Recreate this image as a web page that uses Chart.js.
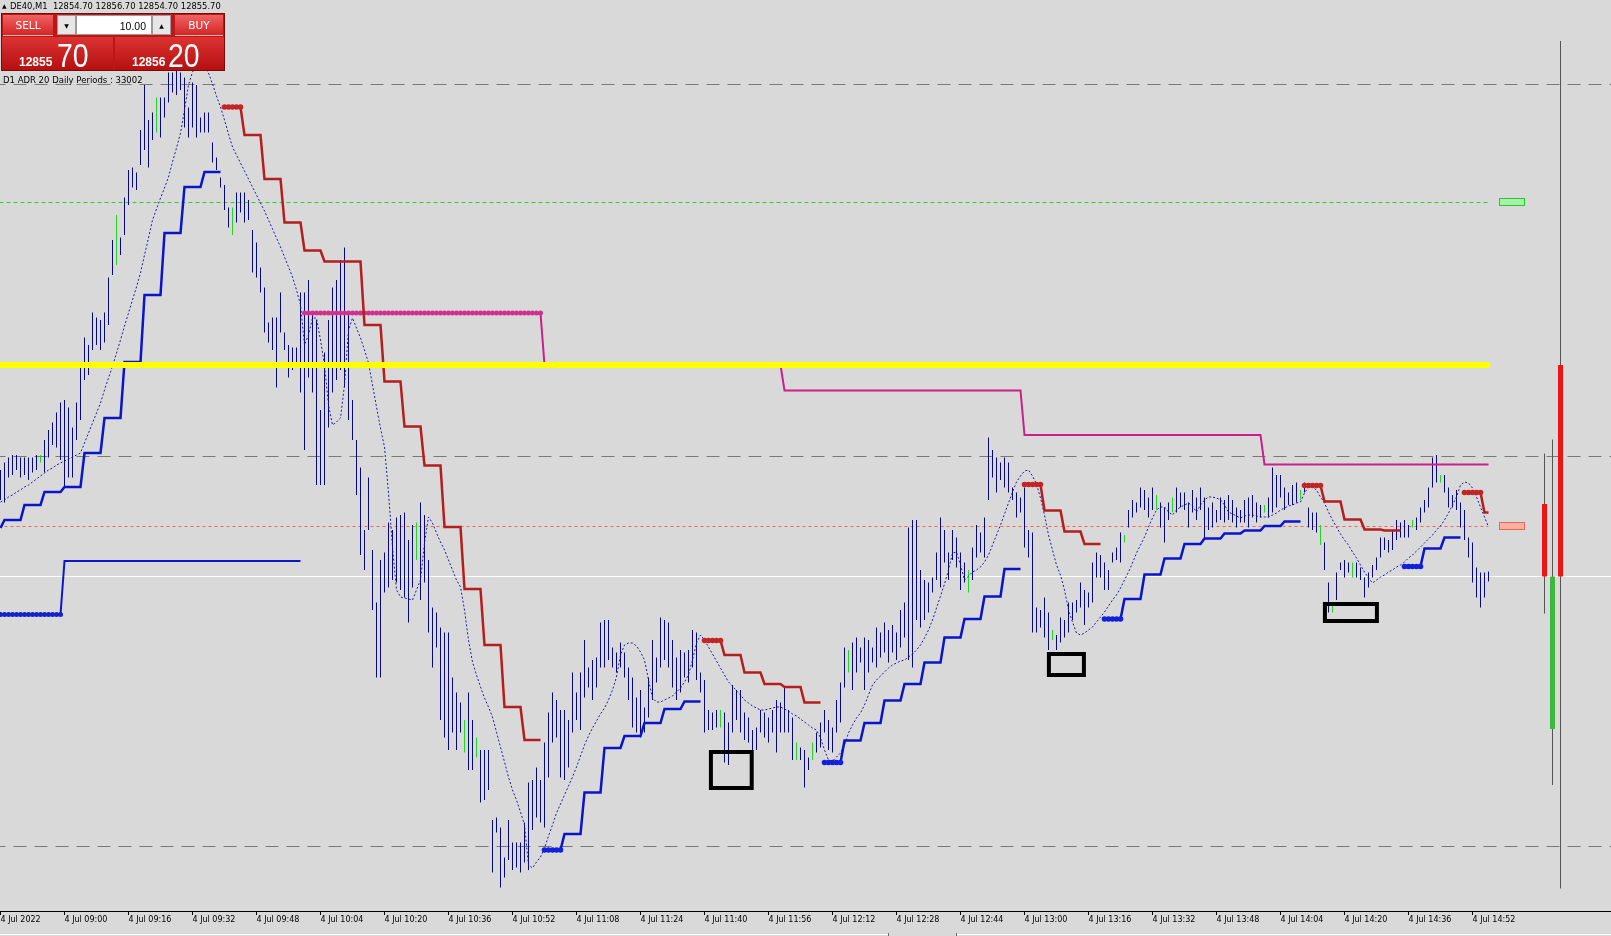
<!DOCTYPE html>
<html><head><meta charset="utf-8">
<script src="https://cdn.jsdelivr.net/npm/chart.js"></script>
<style>
html,body{margin:0;padding:0;background:#d9d9d9;overflow:hidden}
#wrap{position:relative;width:1611px;height:936px}
#c{position:absolute;left:0;top:0;background:#d9d9d9}
.a{position:absolute;white-space:pre;line-height:1}
.t{font-family:'DejaVu Sans',sans-serif;color:#000}
.box{position:absolute;box-sizing:border-box}
.btn{display:flex;align-items:center;justify-content:center;color:#fff;font:10.5px 'DejaVu Sans',sans-serif;background:linear-gradient(#f06262,#d42626);border-bottom:1px solid #f3b0b0}
.sp{display:flex;align-items:center;justify-content:center;background:#e6e6e6;border:1px solid #9a9a9a;font:6px 'DejaVu Sans',sans-serif;color:#000}
.pr{background:linear-gradient(#dc3232,#b51010)}
.sm{font:bold 12px 'Liberation Sans',Arial,sans-serif;color:#fff}
.bg{font:33px 'Liberation Sans',Arial,sans-serif;color:#fff;transform:scaleX(0.86);transform-origin:0 0}
</style></head>
<body><div id="wrap">
<canvas id="c" width="1611" height="936"></canvas>
<div class="a t" style="left:2px;top:3px;font-size:6px">▲</div>
<div class="a t" style="left:10px;top:2px;font-size:8.4px">DE40,M1  12854.70 12856.70 12854.70 12855.70</div>
<div class="box" style="left:1px;top:13px;width:224px;height:58px;background:#bd1616;border:1px solid #7a0a0a"></div>
<div class="box btn" style="left:3px;top:15px;width:50px;height:21px">SELL</div>
<div class="box sp" style="left:57px;top:15px;width:19px;height:20px">▼</div>
<div class="box" style="left:76px;top:15px;width:76px;height:20px;background:#fff;border:1px solid #9a9a9a;font:10.5px 'Liberation Sans',Arial,sans-serif;color:#000;text-align:right;padding:4px 5px 0 0">10.00</div>
<div class="box sp" style="left:152px;top:15px;width:19px;height:20px">▲</div>
<div class="box btn" style="left:175px;top:15px;width:48px;height:21px">BUY</div>
<div class="box pr" style="left:2px;top:37px;width:111px;height:33px"></div>
<div class="box pr" style="left:115px;top:37px;width:109px;height:33px"></div>
<div class="a sm" style="left:19px;top:55px">12855</div>
<div class="a bg" style="left:57px;top:37px">70</div>
<div class="a sm" style="left:132px;top:55px">12856</div>
<div class="a bg" style="left:168px;top:37px">20</div>
<div class="a t" style="left:3px;top:76px;font-size:8.5px">D1 ADR 20 Daily Periods : 33002</div>
</div>
<script>
// ---------- data ----------
const tickBars = [0,16,32,48,64,80,96,112,128,144,160,176,192,208,224,240,256,272,288,304,320,336,352,368];
const tickLabels = ["4 Jul 2022","4 Jul 09:00","4 Jul 09:16","4 Jul 09:32","4 Jul 09:48","4 Jul 10:04","4 Jul 10:20","4 Jul 10:36","4 Jul 10:52","4 Jul 11:08","4 Jul 11:24","4 Jul 11:40","4 Jul 11:56","4 Jul 12:12","4 Jul 12:28","4 Jul 12:44","4 Jul 13:00","4 Jul 13:16","4 Jul 13:32","4 Jul 13:48","4 Jul 14:04","4 Jul 14:20","4 Jul 14:36","4 Jul 14:52"];

const barHigh = [
12877,12878.5,12879.5,12880,12880,12879.5,12879.5,12879.5,12879.5,12880,
12880,12883,12885,12886.5,12888.5,12890.5,12891,12889.5,12885.5,12890.5,
12897.5,12903.5,12902,12908.5,12907.5,12907,12908.5,12915.5,12923,12928,
12923.5,12931.5,12937,12937.5,12936.5,12945,12954,12947,12948.5,12951.5,
12951.5,12951.5,12956.5,12956.5,12957,12956.5,12955.5,12949.5,12954.5,12954,
12947.5,12948.5,12948.5,12942.5,12939.5,12935.5,12934,12929.5,12929.5,12932.5,
12932.5,12932.5,12931,12925,12922.5,12917.5,12913.5,12906.5,12907.5,12907.5,
12912.5,12904.5,12902,12901.5,12901.5,12912.5,12912.5,12915,12908.5,12907,
12889,12900.5,12907,12913.5,12915,12919,12921.5,12908.5,12891,12883,
12877.5,12865,12875.5,12861,12850.5,12859,12860.5,12866.5,12865,12867.5,
12868,12868.5,12863,12866,12866.5,12870.5,12868,12859,12849.5,12848.5,
12845.5,12844.5,12844.5,12835.5,12832.5,12830.5,12827,12832.5,12827,12823.5,
12821,12821,12821,12807,12807.5,12805.5,12799.5,12807,12802.5,12802.5,
12802.5,12806.5,12814.5,12815,12817.5,12815,12822.5,12828.5,12832.5,12831,
12829,12829,12827,12836.5,12832.5,12836.5,12843,12837.5,12839,12839.5,
12846.5,12847,12847,12841.5,12840.5,12842.5,12840.5,12837.5,12835.5,12831.5,
12833,12829.5,12835.5,12843,12839.5,12847.5,12847,12846.5,12843,12839.5,
12841,12840.5,12841,12845,12844.5,12836.5,12835,12829,12828.5,12829,
12829,12828.5,12826.5,12834,12833,12833,12828.5,12827.5,12825,12825.5,
12829,12828.5,12827.5,12829,12831,12830.5,12833.5,12829,12827.5,12822.5,
12821.5,12821,12819.5,12822.5,12824.5,12826.5,12829,12827,12825.5,12831,
12834.5,12841.5,12841,12842.5,12843.5,12841.5,12843.5,12843,12841.5,12845.5,
12844.5,12846.5,12845,12846,12844.5,12849,12850.5,12865.5,12867,12867,
12857,12855,12854.5,12855.5,12860.5,12867.5,12865,12860.5,12865,12863.5,
12860.5,12858.5,12857,12861.5,12866,12864.5,12867.5,12883.5,12881,12879.5,
12878.5,12879.5,12878.5,12873.5,12872.5,12871.5,12873.5,12865,12864.5,12849.5,
12849,12851.5,12848.5,12845,12844,12847.5,12847,12850.5,12850.5,12851,
12854.5,12853,12852.5,12858.5,12860.5,12860,12858.5,12857,12860.5,12861.5,
12864.5,12864,12869,12871,12870.5,12873.5,12873,12871.5,12873.5,12872,
12870.5,12869.5,12870.5,12871.5,12873.5,12872.5,12872.5,12870.5,12873,12871.5,
12873.5,12871.5,12869.5,12870.5,12869,12871.5,12871,12872,12871,12869.5,
12869,12871,12871.5,12872,12870.5,12870,12870,12871.5,12877.5,12876,
12876,12873.5,12872.5,12874,12874.5,12873,12874.5,12869.5,12868.5,12868.5,
12866,12862.5,12854.5,12850,12856.5,12858.5,12859,12858.5,12858.5,12858.5,
12857.5,12855.5,12856.5,12858,12859.5,12863.5,12863.5,12863,12865,12867,
12866.5,12867,12866,12867,12867.5,12869.5,12871,12873.5,12879.5,12880,
12876,12876,12873.5,12872,12873,12870.5,12869,12863.5,12862.5,12857.5,
12856.5,12856.5,12856.7];

const barLow = [
12871,12870.5,12875.5,12876,12877,12875.5,12876,12875,12876.5,12877,
12878.5,12876.5,12879.5,12882,12881.5,12879,12873.5,12875.5,12875.5,12883,
12887,12895,12896,12901,12902,12901,12902.5,12906,12916,12918,
12920,12924,12930,12933.5,12933,12938,12941,12937.5,12943,12944.5,
12943.5,12947.5,12950.5,12952.5,12952,12953,12945.5,12943.5,12945.5,12943.5,
12944.5,12944.5,12944.5,12938.5,12937,12933.5,12929,12925.5,12924,12926.5,
12928.5,12926.5,12927,12916.5,12915.5,12912.5,12904.5,12902.5,12901,12893.5,
12904.5,12901,12895.5,12897,12897.5,12892.5,12881,12895.5,12892.5,12874,
12874,12874,12885.5,12892.5,12895,12897,12893.5,12887,12883,12872,
12860,12857,12865,12849,12835.5,12835.5,12852.5,12853.5,12855,12854.5,
12853,12851.5,12846.5,12853.5,12859,12851,12854.5,12844.5,12837.5,12841.5,
12827,12823.5,12821,12824.5,12821,12824.5,12820.5,12817,12817,12819.5,
12810.5,12811,12813,12796.5,12804.5,12793.5,12795.5,12799,12797,12797.5,
12796.5,12798.5,12797,12805,12807.5,12806.5,12805.5,12815.5,12822.5,12823.5,
12815.5,12815,12817.5,12824.5,12827,12825,12831.5,12833.5,12831,12833.5,
12837.5,12837.5,12839,12837.5,12836.5,12837.5,12835.5,12831,12825.5,12824.5,
12823.5,12824.5,12827.5,12831,12834.5,12837.5,12839,12837.5,12833.5,12831,
12832.5,12835.5,12834.5,12837.5,12835,12832.5,12824.5,12825,12825,12825.5,
12825.5,12818.5,12818,12824.5,12827,12824.5,12823,12822.5,12819.5,12821,
12824.5,12823.5,12822.5,12824.5,12820.5,12824.5,12824.5,12824.5,12819,12819,
12819,12813.5,12817,12819,12820.5,12821.5,12824.5,12821,12820.5,12824.5,
12826.5,12833.5,12836.5,12833,12836.5,12838.5,12833,12836.5,12838.5,12837.5,
12839.5,12840.5,12838.5,12840.5,12839,12841.5,12843.5,12839,12837.5,12847,
12845.5,12847,12848.5,12852.5,12855,12853.5,12858.5,12855,12859,12857.5,
12853,12854.5,12852.5,12855,12859.5,12860.5,12859.5,12871,12875.5,12872.5,
12875,12873.5,12872.5,12871,12867.5,12868.5,12861.5,12859.5,12844.5,12844.5,
12845.5,12843.5,12841,12843,12841,12842.5,12843.5,12844.5,12847,12848.5,
12849.5,12846,12849.5,12850.5,12855.5,12855.5,12853,12853,12858.5,12859,
12858.5,12862.5,12865.5,12867.5,12868.5,12869.5,12869,12867.5,12869,12869,
12865.5,12862.5,12867,12868.5,12868.5,12869.5,12869,12865.5,12868.5,12867,
12869,12863,12865,12865.5,12866.5,12867,12866.5,12867,12866.5,12865.5,
12866.5,12866.5,12865.5,12867.5,12866.5,12867.5,12868.5,12867.5,12868.5,12869.5,
12871.5,12869,12870,12870,12870.5,12871,12872.5,12865.5,12865,12864.5,
12862,12857,12848.5,12848.5,12851,12857,12855.5,12856.5,12855.5,12855.5,
12855,12851.5,12853.5,12855.5,12857,12859.5,12861,12860.5,12861,12863,
12863.5,12863.5,12863.5,12865.5,12865,12866.5,12868.5,12869.5,12873.5,12874.5,
12874.5,12872.5,12869.5,12869.5,12869,12865.5,12863,12859.5,12854.5,12851.5,
12849.5,12851.5,12854.7];

const greenBars = [10,29,39,58,104,116,119,180,199,203,212,242,263,281,289,293,316,325,330,333,338,353,360];

const maValues = [
12870.6,12871,12871.6,12872,12872.6,12873,12873.6,12874,12874.6,12875.2,
12875.8,12876.4,12877,12877.4,12878,12878.4,12878.8,12879.2,12879.6,12880,
12880.4,12882.4,12884.4,12886.4,12888.4,12890.4,12893,12895.4,12897.8,12900.4,
12903,12905.8,12908.4,12911,12913.6,12916.4,12920,12923.4,12927,12929.2,
12931.4,12933.4,12935.6,12938.6,12941.4,12944.4,12949,12954,12956.6,12957.8,
12958.2,12957.6,12956.4,12954.2,12951.8,12949.6,12947,12944.2,12941.6,12940,
12938.4,12936.8,12935.2,12933.6,12932,12930.4,12928.8,12927,12925.2,12923.4,
12921.6,12919.6,12917.6,12915.6,12913,12910,12902,12904,12907.4,12907.4,
12903,12898,12890,12886,12886.6,12887.4,12894,12905,12907.4,12905.4,
12903.4,12901,12898.4,12894,12889.6,12885.4,12881.6,12872.4,12861.6,12853,
12851.6,12851.4,12851.2,12851,12853,12855,12862.4,12867.6,12866.4,12864.4,
12862.6,12861,12859,12857,12855,12853.6,12849,12843,12838.6,12836,
12833.6,12831.4,12829.6,12827.6,12824.6,12821.6,12818.6,12815.6,12813,12811,
12808.6,12806,12798,12797.4,12798.6,12799.6,12801.4,12803.8,12806,12808.4,
12810.2,12812,12813.8,12815.6,12817.6,12819.8,12822,12823.8,12825.4,12826.8,
12828.2,12829.4,12831,12833,12835.6,12840,12842,12842.4,12842.4,12841.8,
12840.6,12839,12835,12831.4,12830.6,12830.6,12831,12831.4,12831.8,12832.6,
12833.4,12834.6,12836,12839,12842.4,12844,12843,12841.6,12840.2,12838.8,
12837.4,12836,12834.6,12833.8,12832.8,12832,12831,12830.4,12829.8,12829.4,
12829,12829,12829.2,12829.4,12829.6,12829.6,12829.2,12828.8,12828.2,12827.8,
12827.2,12826.6,12826,12825.4,12825,12823.4,12821,12819,12818.8,12819.6,
12820.4,12822,12824.4,12826,12827.4,12828.4,12830,12832,12834,12835,
12835.8,12836.6,12837.4,12838,12838.4,12838.8,12839,12839.6,12840.2,12841,
12842,12843.4,12845,12847,12849.4,12851.8,12854.2,12857,12860.4,12860.6,
12858,12855,12855.8,12856.6,12857,12857.6,12858.6,12860,12862,12864,
12866,12868.2,12870.4,12872.6,12874.6,12875.8,12876.8,12877,12875.8,12874.2,
12871.4,12868,12864,12861,12858,12856,12853,12849,12846.6,12844.4,
12844,12844.4,12845,12845.6,12846.6,12847.6,12848.6,12849.8,12851,12852,
12853.4,12855,12856.6,12858.4,12860.4,12862,12863.6,12865.6,12867.4,12869,
12869.6,12869.6,12868.6,12868,12869,12869.6,12870,12870.4,12869.8,12868.6,
12870,12871,12871.6,12871.6,12871.4,12871,12870,12868.6,12868.2,12867.8,
12867.4,12867.8,12868,12868,12867.8,12867.6,12867.6,12867.6,12868,12868.4,
12869,12869.4,12869.8,12870,12870.4,12870.6,12872.4,12873.6,12873.6,12873,
12871.6,12870.4,12868.6,12867,12865.6,12864.2,12863,12862,12860.6,12859.4,
12858,12856.6,12855.4,12854.4,12855,12855.6,12856,12856.6,12857,12857.6,
12858,12858.6,12859.4,12860,12860.8,12861.6,12862.4,12863.2,12864,12865,
12865.8,12867,12868.4,12870,12871.6,12874,12874.6,12874.4,12873.4,12871.6,
12869.6,12867.6,12865.6];

// trailing stop: bar 0, then one level per block of 5 bars starting at bar 1
const stopBar0 = 12865.4;
const stopLevels = [
12867,12870,12872.6,12873.6,12880.4,12887.4,12898.6,12912,12924.4,12933.6,12936.6,
12949.6,12944,12935.2,12926.5,12920.9,12918.7,12918.7,12906,12894.7,12885.7,12877.9,12865.6,12853.2,12842,12829.6,12823,
12801,12804.2,12812.5,12821.4,12823.8,12826.4,12829.2,12830.7,
12842.9,12840,12836.5,12834.2,12833.6,12830.5,
12818.5,12822.9,12826.4,12830.9,12834.2,12838.5,12843.5,12847.2,12851.7,12857.2,
12874.1,12868.9,12864.7,12862.2,
12847.2,12851.2,12856.1,12859.3,12862.2,12863.3,12864.3,12864.9,12865.8,12866.7,
12873.9,12870.7,12867.1,12865.1,12864.9,
12857.7,12861.3,12863.5,
12872.5,12868.5];
const stopSides = "BBBBBBBBBBB"+"RRRRRRRRRRRRRRRR"+"BBBBBBBB"+"RRRRRR"+"BBBBBBBBBB"+"RRRR"+"BBBBBBBBBB"+"RRRRR"+"BBB"+"RR";

// hourly levels
const hourStart = [0,16,76,136,196,256,316];
const hourLevel = [12848.1,12858.8,12908.4,12898,12892.9,12884,12878.1];
const hourSide  = "BBMMMMM";
const hourMarked = [1,0,1,0,0,0,0];

// horizontal objects
const grayLevels = [12954.1,12879.7,12801.7];
const yellowLevel = 12898;
const greenLevel = 12930.5;
const redLevel = 12865.7;
const bidPrice = 12855.7;
const yellowEnd = 372.4, dashEnd = 371.9, tagFrom = 374.6, tagTo = 380.8;

// higher timeframe candles at right
const candleBar   = [386,388,390];
const candleOpen  = [12870.2,12825.2,12898];
const candleHigh  = [12880.3,12883.1,12962.8];
const candleLow   = [12848.3,12814,12793.3];
const candleClose = [12855.7,12855.7,12855.7];

// black rectangles [barFrom, barTo, priceTop, priceBottom]
const rectBoxes = [[177.6,187.8,12820.6,12813.4],[262.1,270.85,12840.2,12836],[331.1,344.1,12850.2,12846.8]];

const priceTop = 12971, priceBottom = 12788.8, barMin = -0.125, barMax = 402.625;

// ---------- build datasets ----------
const N = barHigh.length;
const greenSet = new Set(greenBars);
const barData = barHigh.map((h,i)=>({x:i,y:[barLow[i],h]}));
const barCols = barHigh.map((h,i)=>greenSet.has(i)?'#22d822':'#0a0a74');
const maData = maValues.map((v,i)=>({x:i,y:v}));

const redLine=[],blueLine=[],redDots=[],blueDots=[];
for(let m=0;m<N;m++){
  let side,level,k;
  if(m===0){side='B';level=stopBar0;k=-1;} else {k=Math.floor((m-1)/5);side=stopSides[k];level=stopLevels[k];}
  redLine.push({x:m,y:side==='R'?level:null});
  blueLine.push({x:m,y:side==='B'?level:null});
  if(k>0 && stopSides[k-1]!==side)(side==='R'?redDots:blueDots).push({x:m,y:level});
}
const hBlue=[],hMag=[],hBlueDots=[],hMagDots=[];
for(let m=0;m<N;m++){
  let h=0; for(let j=0;j<hourStart.length;j++) if(hourStart[j]<=m) h=j;
  const s=hourSide[h], lv=hourLevel[h];
  hBlue.push({x:m,y:s==='B'?lv:null});
  hMag.push({x:m,y:s==='M'?lv:null});
  if(hourMarked[h])(s==='B'?hBlueDots:hMagDots).push({x:m,y:lv});
}
function hline(level,x0,x1,color,width,dash,order){
  return {type:'line',data:[{x:x0,y:level},{x:x1,y:level}],borderColor:color,borderWidth:width,borderDash:dash||[],pointRadius:0,order:order,fill:false};
}
function lineDs(data,color,width,order,dash){
  return {type:'line',data,borderColor:color,borderWidth:width,borderDash:dash||[],pointRadius:0,tension:0,spanGaps:false,order,fill:false};
}
function dotDs(data,color,r,order){
  return {type:'line',data,showLine:false,pointRadius:r,pointBackgroundColor:color,pointBorderWidth:0,pointBorderColor:color,order};
}
const datasets=[
  ...grayLevels.map(l=>hline(l,-2,410,'#787878',1,[13,8],20)),
  hline(bidPrice,-2,410,'#ffffff',1,[],20),
  hline(greenLevel,-2,dashEnd,'#27d327',1,[4,3],20),
  hline(redLevel,-2,dashEnd,'#f2664f',1,[3,3],20),
  {type:'bar',data:barData,backgroundColor:barCols,barThickness:1,grouped:false,borderWidth:0,inflateAmount:0,order:10},
  {type:'bar',data:candleBar.map((x,i)=>({x,y:[candleLow[i],candleHigh[i]]})),backgroundColor:'#545454',barThickness:1,grouped:false,borderWidth:0,inflateAmount:0,order:11},
  {type:'bar',data:candleBar.map((x,i)=>({x,y:[candleOpen[i],candleClose[i]]})),backgroundColor:candleBar.map((x,i)=>candleClose[i]<candleOpen[i]?'#ec1414':'#3cb83c'),barThickness:5,grouped:false,borderWidth:0,inflateAmount:0,order:9},
  lineDs(maData,'#1a1aa8',1,6,[2,2]),
  lineDs(hBlue,'#0c18c8',2,5),
  lineDs(hMag,'#c8208c',2,5),
  dotDs(hBlueDots,'#1224cc',2.5,4),
  dotDs(hMagDots,'#d0308e',2.5,4),
  lineDs(redLine,'#b41e1e',2.5,3),
  lineDs(blueLine,'#0a14c8',2.5,3),
  dotDs(redDots,'#c42424',2.8,2),
  dotDs(blueDots,'#1020dc',2.8,2),
  hline(yellowLevel,-2,yellowEnd,'#ffff00',6,[],1)
];

const overlay={id:'overlay',
  afterDatasetsDraw(chart){
    const c=chart.ctx,xs=chart.scales.x,ys=chart.scales.y;
    c.save();
    [[greenLevel,'#a8f0a8','#22cc22'],[redLevel,'#f6b0a4','#ee6650']].forEach(([lv,f,s])=>{
      const x0=Math.round(xs.getPixelForValue(tagFrom))+0.5,x1=Math.round(xs.getPixelForValue(tagTo))+0.5,y=Math.round(ys.getPixelForValue(lv));
      c.fillStyle=f;c.fillRect(x0,y-3,x1-x0,6);c.strokeStyle=s;c.lineWidth=1;c.strokeRect(x0,y-3.5,x1-x0,7);
    });
    c.strokeStyle='#000';c.lineWidth=4;
    rectBoxes.forEach(b=>{
      const x0=xs.getPixelForValue(b[0]),x1=xs.getPixelForValue(b[1]),y0=ys.getPixelForValue(b[2]),y1=ys.getPixelForValue(b[3]);
      c.strokeRect(x0,y0,x1-x0,y1-y0);
    });
    c.restore();
  },
  afterDraw(chart){
    const c=chart.ctx;c.save();
    c.fillStyle='#ffffff';c.fillRect(0,934,888,1);c.fillRect(957,934,654,1);
    c.fillStyle='#6a6a6a';c.fillRect(888,933,1,3);c.fillRect(956,933,1,3);
    c.restore();
  }
};

new Chart(document.getElementById('c'),{
  type:'line',
  data:{datasets},
  options:{
    responsive:false,animation:false,events:[],
    layout:{padding:0,autoPadding:false},
    plugins:{legend:{display:false},tooltip:{enabled:false}},
    scales:{
      x:{type:'linear',min:barMin,max:barMax,offset:false,
        afterBuildTicks:s=>{s.ticks=tickBars.map(v=>({value:v}));},
        afterFit:s=>{s.height=25;s.paddingLeft=0;s.paddingRight=0;},
        ticks:{autoSkip:false,maxRotation:0,minRotation:0,align:'start',padding:0,color:'#000',
          font:{family:'DejaVu Sans',size:8},callback:(v,i)=>tickLabels[i]},
        grid:{drawOnChartArea:false,drawTicks:true,tickLength:4,color:'#000',tickColor:'#000',offset:false},
        border:{display:true,color:'#000',width:1}},
      y:{type:'linear',display:false,min:priceBottom,max:priceTop}
    }
  },
  plugins:[overlay]
});
</script>
</body></html>
